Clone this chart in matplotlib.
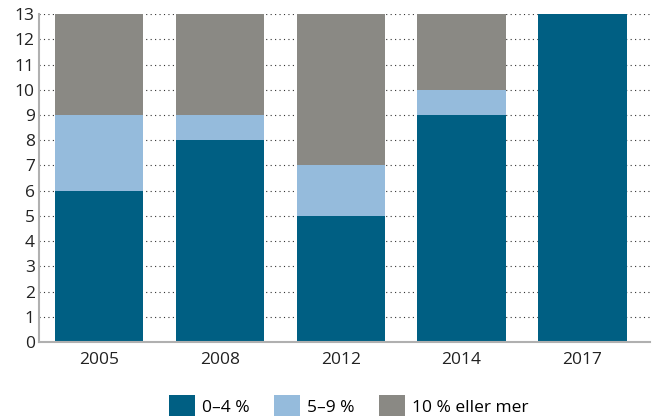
import numpy as np
import matplotlib.pyplot as plt

plt.rcParams['font.family'] = ['Open Sans', 'DejaVu Sans']

# Data
years = ['2005', '2008', '2012', '2014', '2017']
low = [6, 8, 5, 9, 13]       # 0-4 %
mid = [3, 1, 2, 1, 0]        # 5-9 %
high = [4, 4, 6, 3, 0]       # 10 % eller mer
labels = ['0–4 %', '5–9 %', '10 % eller mer']
colors = ['#005f83', '#95bbdc', '#8a8984']

fig = plt.figure(figsize=(6.6, 4.17), dpi=100)
ax = fig.add_axes([0.059, 0.18, 0.926, 0.786])

x = np.arange(len(years))
w = 0.73
bottom = np.zeros(len(years))
for vals, lab, col in zip([low, mid, high], labels, colors):
    ax.bar(x, vals, w, bottom=bottom, color=col, label=lab, zorder=2)
    bottom += np.array(vals)

ax.set_xlim(-0.497, 4.56)
ax.set_ylim(0, 13)
ax.set_yticks(range(0, 14))
ax.set_xticks(x)
ax.set_xticklabels(years)
ax.yaxis.grid(True, linestyle=(0, (1, 3)), color='#333333', linewidth=0.8, zorder=0)
ax.tick_params(axis='both', length=0, labelsize=12.5, colors='#222222')
ax.tick_params(axis='x', pad=7)
ax.tick_params(axis='y', pad=3)
for s in ['top', 'right']:
    ax.spines[s].set_visible(False)
ax.spines['left'].set_color('#b0b0b0')
ax.spines['bottom'].set_color('#b0b0b0')
ax.spines['left'].set_linewidth(1.5)
ax.spines['bottom'].set_linewidth(1.5)

fig.legend(loc='lower center', bbox_to_anchor=(0.528, -0.036), ncol=3, frameon=False,
           fontsize=12.5, handlelength=1.5, handleheight=1.5, columnspacing=1.4,
           handletextpad=0.4)

fig.savefig('out.png', dpi=100)
